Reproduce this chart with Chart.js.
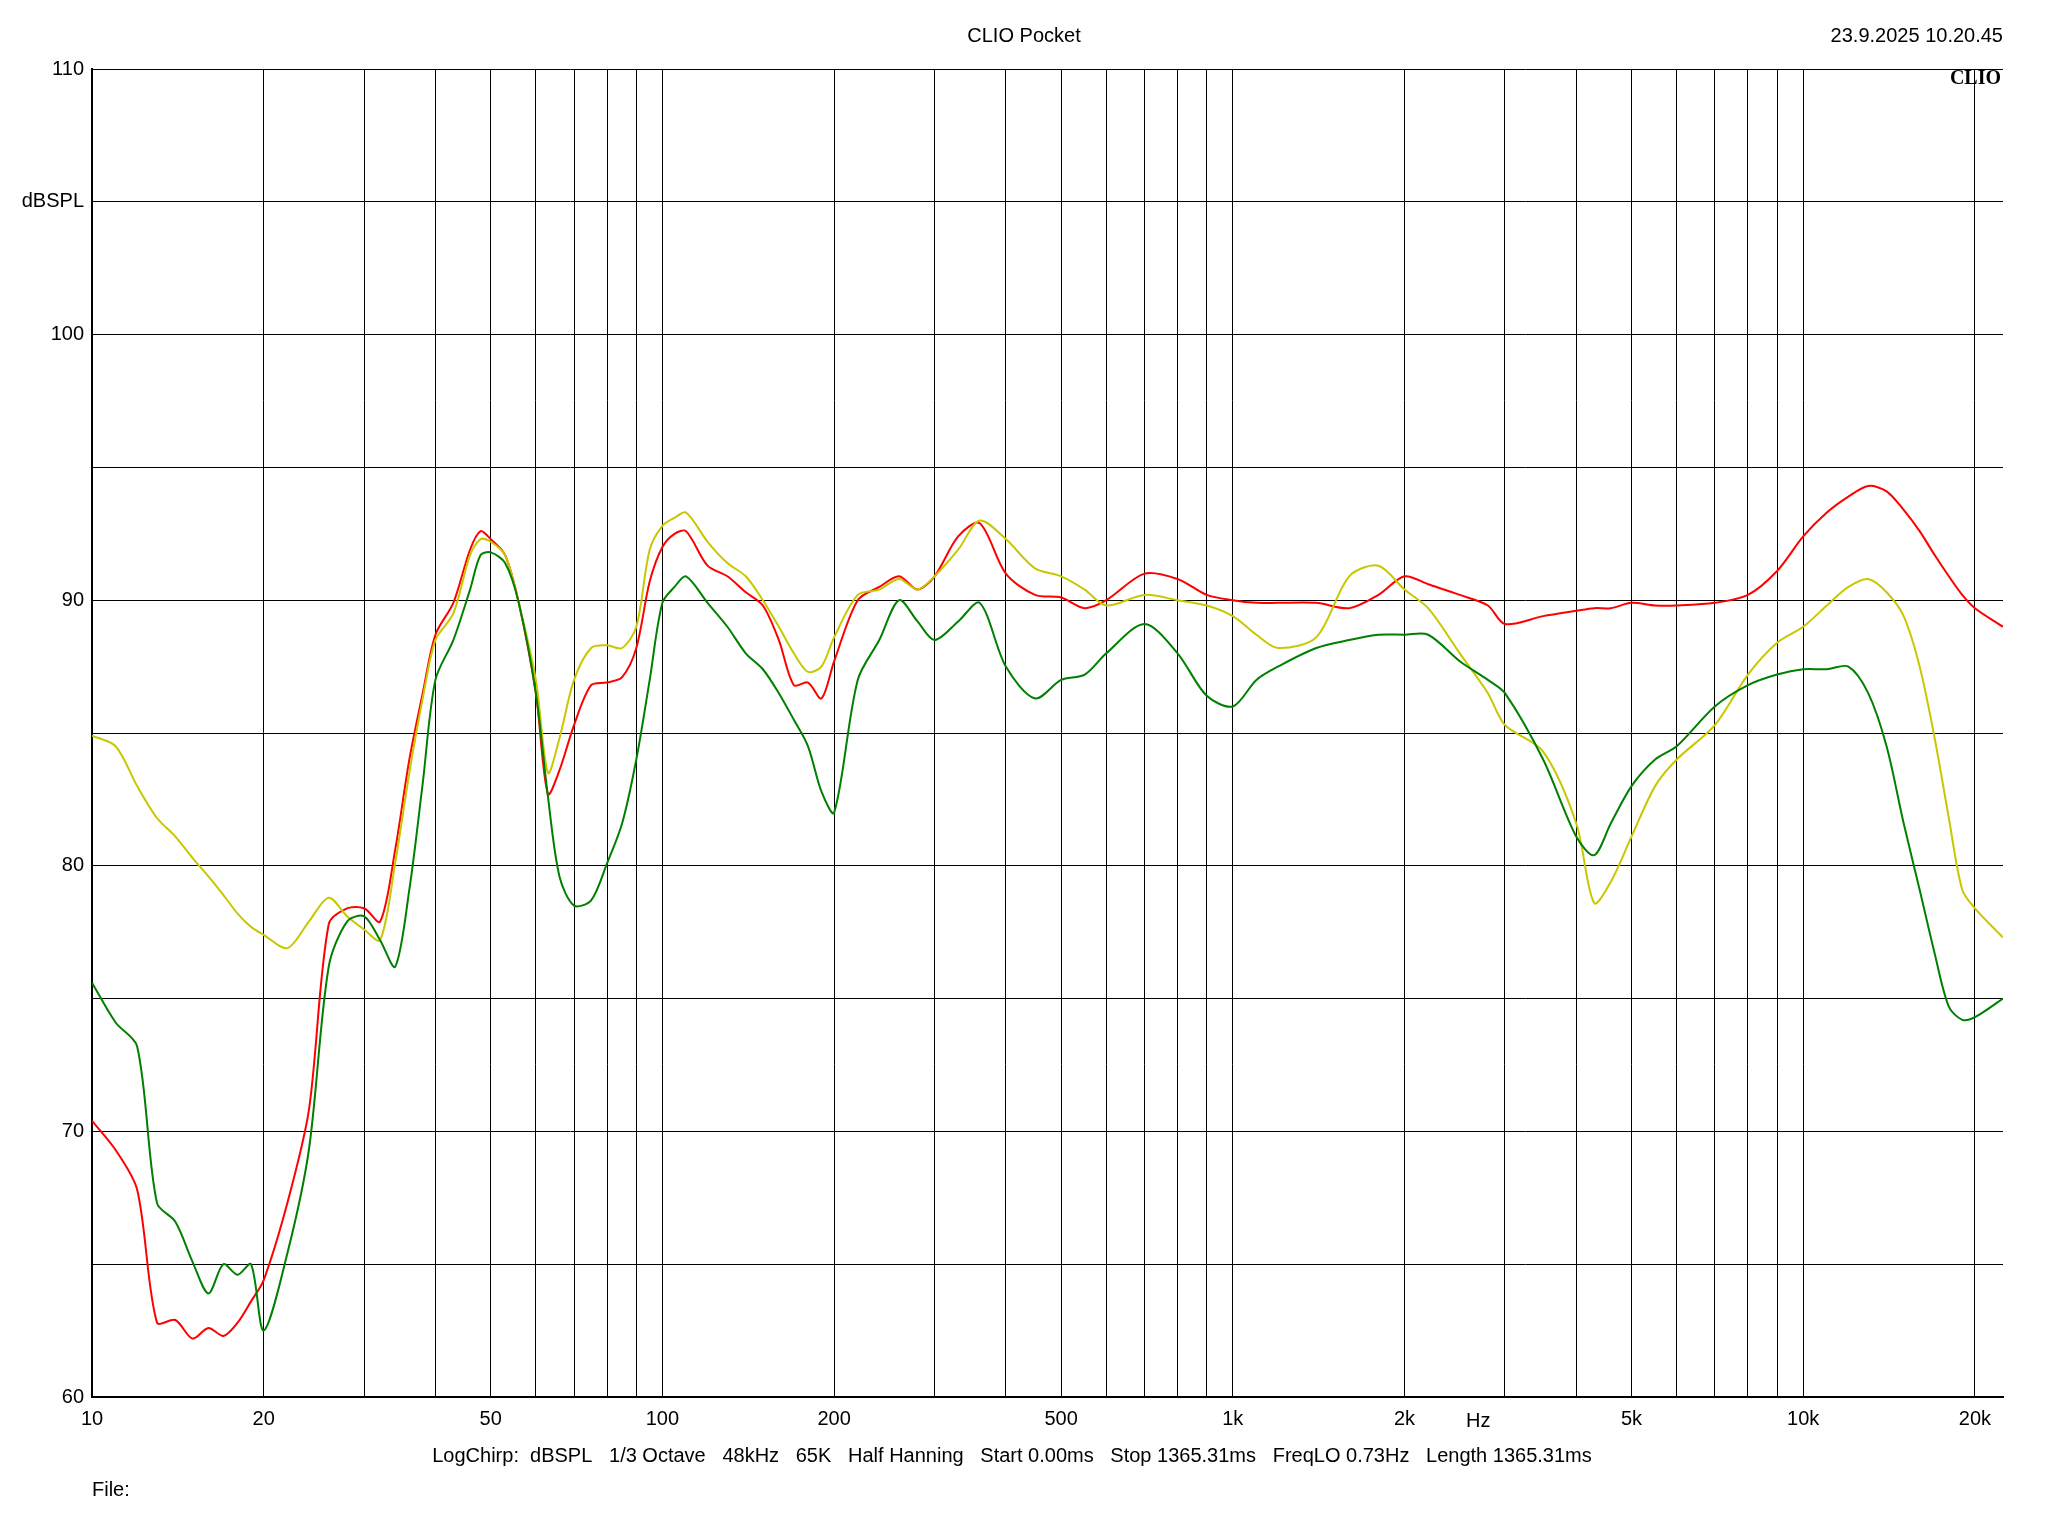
<!DOCTYPE html>
<html>
<head>
<meta charset="utf-8">
<script src="https://cdn.jsdelivr.net/npm/chart.js@4/dist/chart.umd.min.js"></script>
<style>
  body { margin: 0; width: 2048px; height: 1536px; background: #fff; font-family: "Liberation Sans", Arial, sans-serif; position: relative; overflow: hidden; }
  #wrap { position: absolute; left: 0; top: 0; width: 2048px; height: 1536px; }
  .txt { position: absolute; font-size: 20px; color: #000; white-space: nowrap; }
</style>
</head>
<body>
<div id="wrap"><canvas id="chart"></canvas></div>
<div class="txt" style="left:1024px; top:24px; transform:translateX(-50%);">CLIO Pocket</div>
<div class="txt" style="right:45px; top:24px;">23.9.2025 10.20.45</div>
<div class="txt" style="right:47px; top:66px; font-family:'Liberation Serif',serif; font-weight:bold;">CLIO</div>
<div class="txt" style="left:1466px; top:1409px;">Hz</div>
<div class="txt" style="left:1012px; top:1444px; transform:translateX(-50%);">LogChirp:&nbsp; dBSPL&nbsp;&nbsp; 1/3 Octave&nbsp;&nbsp; 48kHz&nbsp;&nbsp; 65K&nbsp;&nbsp; Half Hanning&nbsp;&nbsp; Start 0.00ms&nbsp;&nbsp; Stop 1365.31ms&nbsp;&nbsp; FreqLO 0.73Hz&nbsp;&nbsp; Length 1365.31ms</div>
<div class="txt" style="left:92px; top:1478px;">File:</div>
<script>
// frequencies (Hz) shared by all three traces
const freqs = [10, 11, 12, 13, 14, 15, 16, 17, 18, 19, 20, 22, 24, 26, 28, 30, 32, 34, 36, 38,
  40, 43, 46, 48, 50, 53, 56, 60, 63, 66, 70, 75, 80, 85, 90, 95, 100, 105, 110, 120,
  130, 140, 150, 160, 170, 180, 190, 200, 220, 240, 260, 280, 300, 330, 360, 400, 450, 500, 550, 600,
  700, 800, 900, 1000, 1100, 1200, 1400, 1600, 1800, 2000, 2200, 2500, 2800, 3000, 3500, 4000, 4300, 4600, 5000, 5500,
  6000, 7000, 8000, 9000, 10000, 11000, 12000, 13000, 14000, 15000, 16000, 17000, 18000, 19000, 20000, 22400];

const redDb = [70.4, 69.3, 67.8, 62.8, 62.9, 62.2, 62.6, 62.3, 62.8, 63.6, 64.4, 67.3, 70.8, 77.8, 78.4, 78.4, 77.9, 80.6, 84, 86.5,
  88.7, 89.9, 91.9, 92.6, 92.3, 91.7, 89.9, 86.5, 82.7, 83.6, 85.3, 86.8, 86.9, 87.1, 88.2, 90.7, 92, 92.5, 92.6, 91.3,
  90.9, 90.3, 89.8, 88.5, 86.8, 86.9, 86.3, 87.7, 90, 90.5, 90.9, 90.4, 90.9, 92.4, 92.9, 91, 90.2, 90.1, 89.7, 90,
  91, 90.8, 90.2, 90, 89.9, 89.9, 89.9, 89.7, 90.2, 90.9, 90.6, 90.2, 89.8, 89.1, 89.4, 89.6, 89.7, 89.7, 89.9, 89.8,
  89.8, 89.9, 90.2, 91.1, 92.4, 93.3, 93.9, 94.3, 94.1, 93.4, 92.6, 91.7, 90.9, 90.2, 89.7, 89];

const yellowDb = [84.9, 84.5, 83, 81.8, 81.1, 80.3, 79.6, 78.9, 78.2, 77.7, 77.4, 76.9, 77.9, 78.8, 78.1, 77.6, 77.2, 80.1, 83.5, 86.3,
  88.5, 89.5, 91.7, 92.3, 92.2, 91.7, 89.9, 87, 83.5, 84.8, 87, 88.2, 88.3, 88.2, 89, 91.9, 92.8, 93.1, 93.3, 92.2,
  91.4, 90.9, 90, 89, 88, 87.3, 87.5, 88.6, 90.2, 90.4, 90.8, 90.4, 90.9, 91.9, 93, 92.3, 91.2, 90.9, 90.4, 89.8,
  90.2, 90, 89.8, 89.4, 88.7, 88.2, 88.6, 90.9, 91.3, 90.4, 89.7, 88, 86.5, 85.3, 84.3, 81.6, 78.6, 79.4, 81.1, 83,
  84, 85.3, 87.2, 88.4, 89, 89.8, 90.5, 90.8, 90.3, 89.4, 87.5, 84.8, 81.8, 79.1, 78.4, 77.3];

const greenDb = [75.6, 74.1, 73.2, 67.3, 66.6, 65.1, 63.9, 65, 64.6, 65, 62.5, 65.4, 69.3, 76.2, 77.9, 78.1, 77.2, 76.2, 79.1, 83.1,
  87, 88.5, 90.4, 91.7, 91.8, 91.4, 89.9, 86.5, 82.6, 79.6, 78.5, 78.7, 80.1, 81.6, 84, 87, 89.9, 90.5, 90.9, 89.9,
  89, 88, 87.4, 86.5, 85.5, 84.5, 82.8, 82, 87, 88.5, 90, 89.2, 88.5, 89.2, 89.9, 87.5, 86.3, 87, 87.2, 88,
  89.1, 88, 86.4, 86, 87, 87.5, 88.2, 88.5, 88.7, 88.7, 88.7, 87.7, 87, 86.5, 84, 81.1, 80.4, 81.6, 83, 84,
  84.5, 86, 86.8, 87.2, 87.4, 87.4, 87.5, 86.5, 84.5, 81.6, 79.1, 76.7, 74.7, 74.2, 74.3, 75];

const xGrid = [10, 20, 30, 40, 50, 60, 70, 80, 90, 100, 200, 300, 400, 500, 600, 700, 800, 900,
  1000, 2000, 3000, 4000, 5000, 6000, 7000, 8000, 9000, 10000, 20000];
const xLabels = { 10: '10', 20: '20', 50: '50', 100: '100', 200: '200', 500: '500', 1000: '1k',
  2000: '2k', 5000: '5k', 10000: '10k', 20000: '20k' };
const yLabels = { 60: '60', 70: '70', 80: '80', 90: '90', 100: '100', 105: 'dBSPL', 110: '110' };

function series(values, color) {
  return {
    data: freqs.map((f, i) => ({ x: f, y: values[i] })),
    borderColor: color, borderWidth: 2, pointRadius: 0, tension: 0.3, fill: false
  };
}

new Chart(document.getElementById('chart'), {
  type: 'line',
  data: { datasets: [series(greenDb, '#008000'), series(yellowDb, '#c8c800'), series(redDb, '#ff0000')] },
  options: {
    responsive: true, maintainAspectRatio: false, animation: false,
    layout: { padding: { top: 69, right: 45, left: 0, bottom: 0 } },
    plugins: { legend: { display: false }, tooltip: { enabled: false } },
    scales: {
      x: {
        type: 'logarithmic', min: 10, max: 22400,
        afterBuildTicks: s => { s.ticks = xGrid.map(v => ({ value: v })); },
        afterFit: s => { s.height = 139; },
        ticks: { autoSkip: false, maxRotation: 0, padding: 10, color: '#000',
          font: { size: 20, family: 'Liberation Sans' }, callback: v => xLabels[v] || '' },
        grid: { color: '#000', lineWidth: 1, drawTicks: false },
        border: { color: '#000', width: 2 }
      },
      y: {
        min: 60, max: 110,
        afterBuildTicks: s => { s.ticks = []; for (let v = 60; v <= 110; v += 5) s.ticks.push({ value: v }); },
        afterFit: s => { s.width = 92; },
        ticks: { autoSkip: false, padding: 8, color: '#000',
          font: { size: 20, family: 'Liberation Sans' }, callback: v => yLabels[v] || '' },
        grid: { color: '#000', lineWidth: 1, drawTicks: false },
        border: { color: '#000', width: 2 }
      }
    }
  }
});
</script>
</body>
</html>
